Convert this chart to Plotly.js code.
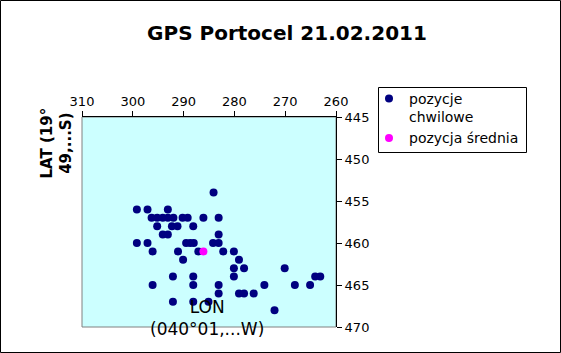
<!DOCTYPE html>
<html>
<head>
<meta charset="utf-8">
<script src="https://cdn.plot.ly/plotly-3.0.1.min.js"></script>
<style>html,body{margin:0;padding:0;background:#fff;}#chart{width:561px;height:353px;}</style>
</head>
<body>
<div id="chart"></div>
<script>
// instantaneous positions (LON minutes fraction, LAT minutes fraction)
const lonInst = [
  284.1,
  299.2, 297.1, 293.1,
  296.3, 295.2, 294.1, 293.1, 292.0, 290.2, 289.2, 286.1, 283.1,
  295.2, 292.3, 291.2, 288.1,
  294.1, 293.1, 283.1,
  299.2, 297.1, 289.5, 288.7, 288.0, 284.2, 283.1,
  296.1, 291.1, 287.1, 282.2, 280.1,
  290.1, 279.1,
  280.1, 278.1, 270.1,
  292.1, 288.1, 280.1, 264.1, 263.1,
  296.1, 288.1, 283.1, 274.1, 268.1, 265.1,
  283.1, 279.1, 278.1, 276.2,
  292.1, 288.1, 285.1,
  272.1
];
const latInst = [
  454,
  456, 456, 456,
  457, 457, 457, 457, 457, 457, 457, 457, 457,
  458, 458, 458, 458,
  459, 459, 459,
  460, 460, 460, 460, 460, 460, 460,
  461, 461, 461, 461, 461,
  462, 462,
  463, 463, 463,
  464, 464, 464, 464, 464,
  465, 465, 465, 465, 465, 465,
  466, 466, 466, 466,
  467, 467, 467,
  468
];
const lonMean = [286.1];
const latMean = [461.0];
const seriesNames = ["pozycje<br>chwilowe", "pozycja średnia"];
const xTicks = [310, 300, 290, 280, 270, 260];
const yTicks = [445, 450, 455, 460, 465, 470];

const L = 82, R = 336, T = 117, B = 327, W = 561, H = 353;
const pw = R - L, ph = B - T;
const px = v => (v - L) / pw;
const py = v => (B - v) / ph;

const traces = [
  {x: lonInst, y: latInst, type: 'scatter', mode: 'markers', name: seriesNames[0],
   marker: {color: '#000080', size: 8}},
  {x: lonMean, y: latMean, type: 'scatter', mode: 'markers', name: seriesNames[1],
   marker: {color: '#ff00ff', size: 8}}
];

const font = {family: 'DejaVu Sans, sans-serif', color: '#000'};
const layout = {
  width: W, height: H,
  margin: {l: L, r: W - R, t: T, b: H - B, pad: 0},
  paper_bgcolor: '#ffffff',
  plot_bgcolor: '#ccffff',
  font: Object.assign({size: 13}, font),
  title: {text: '<b>GPS Portocel 21.02.2011</b>', font: Object.assign({size: 20}, font),
          x: 287 / W, xref: 'container', xanchor: 'center', y: 1 - 33 / H, yref: 'container', yanchor: 'middle'},
  showlegend: true,
  legend: {x: px(369), y: py(83), xanchor: 'left', yanchor: 'top', valign: 'top',
           borderwidth: 0, bgcolor: 'rgba(0,0,0,0)',
           font: Object.assign({size: 14}, font), itemwidth: 30, tracegroupgap: 2},
  xaxis: {side: 'top', range: [310, 260], tickvals: xTicks, ticktext: xTicks.map(String),
          showgrid: false, zeroline: false, showline: true, linecolor: '#000', linewidth: 1,
          ticks: 'outside', ticklen: 5, tickcolor: '#000', tickfont: Object.assign({size: 13}, font)},
  yaxis: {side: 'right', range: [470, 445], tickvals: yTicks, ticktext: yTicks.map(String),
          showgrid: false, zeroline: false, showline: true, linecolor: '#000', linewidth: 1,
          ticks: 'outside', ticklen: 5, tickcolor: '#000', tickfont: Object.assign({size: 13}, font)},
  shapes: [
    {type: 'rect', xref: 'paper', yref: 'paper', x0: 0, x1: 1, y0: 0, y1: 1,
     line: {color: '#808080', width: 1}, layer: 'below'},
    {type: 'rect', xref: 'paper', yref: 'paper', x0: px(0.5), x1: px(W - 0.5), y0: py(H - 0.5), y1: py(0.5),
     line: {color: '#000', width: 1}},
    {type: 'rect', xref: 'paper', yref: 'paper', x0: px(378.5), x1: px(526.5), y0: py(152.5), y1: py(87.5),
     line: {color: '#000', width: 1}}
  ],
  annotations: [
    {text: '<b>LAT (19°<br>49,...S)</b>', textangle: -90, xref: 'paper', yref: 'paper',
     x: px(56.5), y: py(143), xanchor: 'center', yanchor: 'middle', showarrow: false,
     font: Object.assign({size: 15}, font)},
    {text: 'LON<br>(040°01,...W)', xref: 'paper', yref: 'paper',
     x: px(206.5), y: py(318), xanchor: 'center', yanchor: 'middle', showarrow: false,
     font: Object.assign({size: 17}, font)}
  ]
};

Plotly.newPlot('chart', traces, layout, {displayModeBar: false, staticPlot: true});
</script>
</body>
</html>
